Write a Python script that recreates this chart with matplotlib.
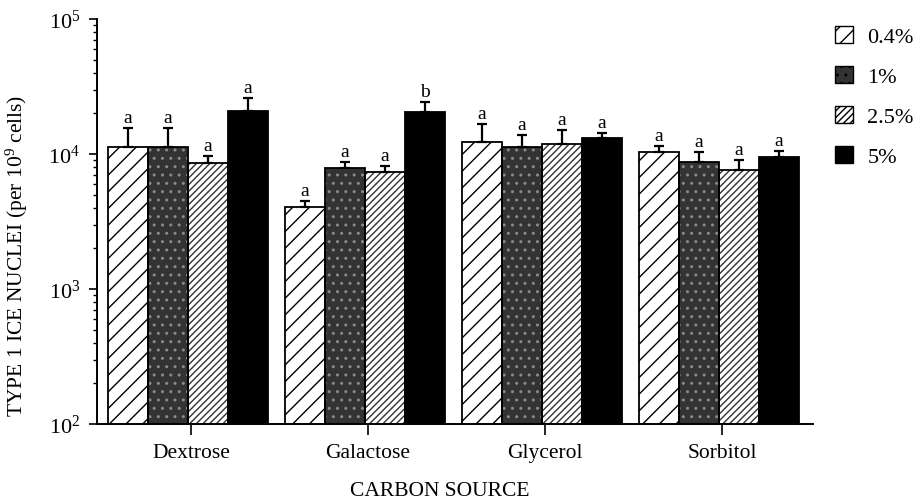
import matplotlib
matplotlib.use("Agg")
import matplotlib.pyplot as plt
import numpy as np
from matplotlib.patches import Patch

categories = ["Dextrose", "Galactose", "Glycerol", "Sorbitol"]
series = ["0.4%", "1%", "2.5%", "5%"]
# bar heights per series for each category
values = {
    "0.4%": [11300, 4050, 12300, 10350],
    "1%":   [11300, 7900, 11300, 8700],
    "2.5%": [8600, 7350, 11850, 7600],
    "5%":   [20800, 20500, 13150, 9500],
}
# top of error bar (cap) per bar
caps = {
    "0.4%": [15600, 4500, 16700, 11450],
    "1%":   [15600, 8700, 13800, 10350],
    "2.5%": [9700, 8150, 15050, 9050],
    "5%":   [26000, 24300, 14300, 10500],
}
letters = {
    "0.4%": ["a", "a", "a", "a"],
    "1%":   ["a", "a", "a", "a"],
    "2.5%": ["a", "a", "a", "a"],
    "5%":   ["a", "b", "a", "a"],
}
yticks = [1e2, 1e3, 1e4, 1e5]
ytick_labels = ["$10^2$", "$10^3$", "$10^4$", "$10^5$"]

plt.rcParams['font.family'] = ['Liberation Serif', 'DejaVu Serif']
plt.rcParams['mathtext.fontset'] = 'custom'
plt.rcParams['mathtext.rm'] = 'Liberation Serif'
plt.rcParams['mathtext.it'] = 'Liberation Serif'
plt.rcParams['hatch.linewidth'] = 1.0

styles = {
    "0.4%": dict(face="white", hatch="//", hcol="black"),
    "1%":   dict(face="#333333", hatch="..", hcol="#8a8a8a"),
    "2.5%": dict(face="white", hatch="/////", hcol="#333333"),
    "5%":   dict(face="black", hatch=None, hcol="black"),
}

W, H = 921, 502
fig = plt.figure(figsize=(W / 100, H / 100), dpi=100)
axl, axr, axb, axt = 97, 813, 425, 20
ax = fig.add_axes([axl / W, 1 - axb / H, (axr - axl) / W, (axb - axt) / H])

x = np.arange(len(categories))
width = 0.226
offsets = (np.arange(len(series)) - 1.5) * width

for i, s in enumerate(series):
    st = styles[s]
    xs = x + offsets[i]
    v = np.array(values[s], dtype=float)
    ax.bar(xs, v, width, bottom=0, facecolor=st["face"], edgecolor=st["hcol"],
           hatch=st["hatch"], linewidth=0, zorder=2)
    ax.bar(xs, v, width, bottom=0, fill=False, edgecolor="black", linewidth=1.3, zorder=3)
    up = np.array(caps[s], dtype=float) - v
    ax.errorbar(xs, v, yerr=[np.zeros_like(v), up], fmt="none", ecolor="black",
                elinewidth=1.6, capsize=3.5, capthick=1.6, zorder=4)
    for xi, c, L in zip(xs, caps[s], letters[s]):
        ax.annotate(L, (xi, c), xytext=(0, 1.5), textcoords="offset points",
                    ha="center", va="bottom", fontsize=14)

ax.set_yscale("log")
ax.set_ylim(1e2, 1e5)
ax.set_xlim(-0.514, 3.53)
ax.set_yticks(yticks)
ax.set_yticklabels(ytick_labels, fontsize=16)
ax.set_xticks(x + 0.017)
ax.set_xticklabels(categories, fontsize=15.5)
ax.tick_params(axis="x", direction="out", length=8, width=1.2, pad=6)
ax.tick_params(axis="y", which="major", direction="out", length=6, width=1.2, pad=6)
ax.tick_params(axis="y", which="minor", direction="out", length=3, width=1.0)
for sp in ["top", "right"]:
    ax.spines[sp].set_visible(False)
for sp in ["left", "bottom"]:
    ax.spines[sp].set_linewidth(1.4)

ax.set_ylabel("TYPE 1 ICE NUCLEI (per 10$^9$ cells)", fontsize=15.5)
ax.yaxis.set_label_coords(-(axl - 30) / (axr - axl), (axb - 256) / (axb - axt))
ax.set_xlabel("CARBON SOURCE", fontsize=15.5)
ax.xaxis.set_label_coords((440 - axl) / (axr - axl), -(482 - axb) / (axb - axt))

handles = []
for s in series:
    st = styles[s]
    handles.append(Patch(facecolor=st["face"], edgecolor="black", hatch=st["hatch"],
                         linewidth=1.0))
leg = fig.legend(handles, series, loc="upper left", bbox_to_anchor=(835 / W, 1 - 27 / H),
                 frameon=False, fontsize=16, handlelength=0.82, handleheight=0.78,
                 labelspacing=0.85, handletextpad=0.64, borderpad=0, borderaxespad=0)

fig.savefig("out.png", dpi=100)
